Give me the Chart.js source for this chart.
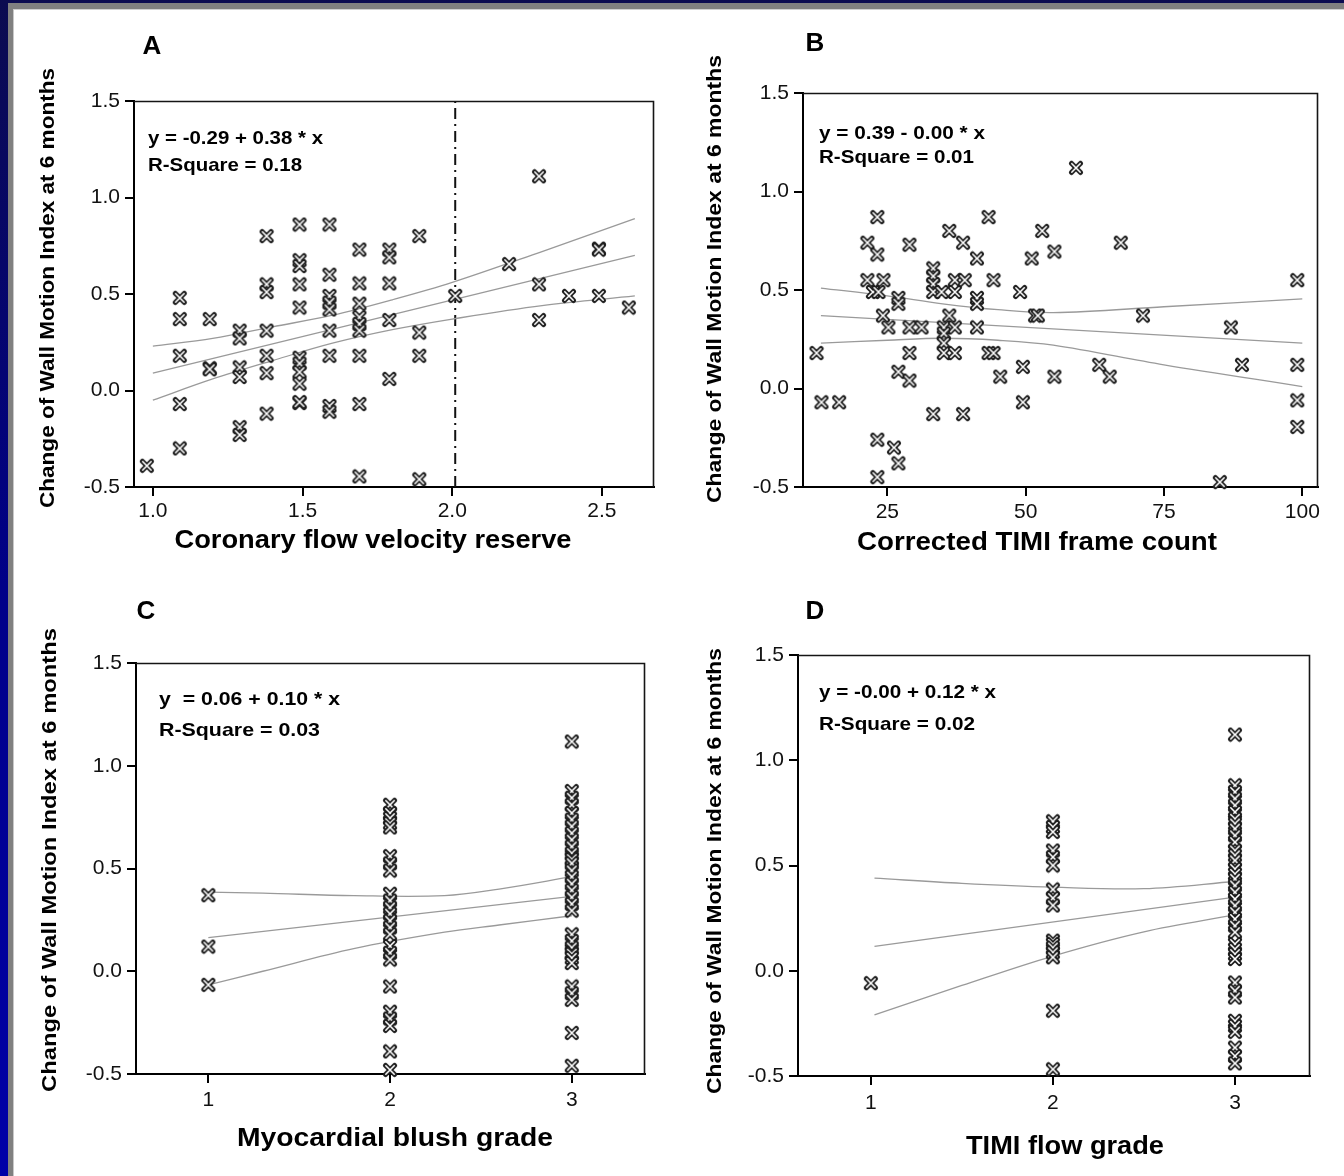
<!DOCTYPE html>
<html><head><meta charset="utf-8">
<script src="https://cdn.jsdelivr.net/npm/chart.js@4.4.1/dist/chart.umd.min.js"></script>
<style>
html,body{margin:0;padding:0;width:1344px;height:1176px;overflow:hidden;background:linear-gradient(to bottom,#0b0b50,#000088 50%,#0000a8);}
#gray{position:absolute;left:8px;top:3px;right:0;bottom:0;background:#808080;}
#white{position:absolute;left:13px;top:9px;right:0;bottom:0;background:#fff;border-top:1px solid #d0d0d0;border-left:1px solid #c8c8c8;}
canvas{position:absolute;}
</style></head><body>
<div id="gray"></div><div id="white"></div>
<canvas id="cA"></canvas><canvas id="cB"></canvas><canvas id="cC"></canvas><canvas id="cD"></canvas>
<script>
// ---------- DATA ----------
const yTitle = 'Change of Wall Motion Index at 6 months';
const yTickValues = [-0.5, 0.0, 0.5, 1.0, 1.5];
const yRange = [-0.5, 1.5];

// Panel A
const aXTitle = 'Coronary flow velocity reserve';
const aEquation = ['y = -0.29 + 0.38 * x', 'R-Square = 0.18'];
const aXTicks = [1.0, 1.5, 2.0, 2.5];
const aX = [0.98,
  1.09,1.09,1.09,1.09,1.09,
  1.19,1.19,1.19,
  1.29,1.29,1.29,1.29,1.29,1.29,
  1.38,1.38,1.38,1.38,1.38,1.38,1.38,
  1.49,1.49,1.49,1.49,1.49,1.49,1.49,1.49,1.49,1.49,1.49,
  1.59,1.59,1.59,1.59,1.59,1.59,1.59,1.59,1.59,
  1.69,1.69,1.69,1.69,1.69,1.69,1.69,1.69,1.69,
  1.79,1.79,1.79,1.79,1.79,
  1.89,1.89,1.89,1.89,
  2.01,2.19,2.29,2.29,2.29,2.39,2.49,2.49,2.49,2.59];
const aY = [-0.39,
  0.48,0.37,0.18,-0.07,-0.30,
  0.37,0.115,0.11,
  0.31,0.27,0.12,0.07,-0.19,-0.23,
  0.80,0.55,0.51,0.31,0.18,0.09,-0.12,
  0.86,0.675,0.645,0.55,0.43,0.17,0.14,0.095,0.035,-0.065,-0.06,
  0.86,0.60,0.49,0.455,0.42,0.31,0.18,-0.08,-0.11,
  0.73,0.555,0.45,0.38,0.345,0.31,0.18,-0.07,-0.445,
  0.73,0.69,0.555,0.365,0.06,
  0.80,0.30,0.18,-0.46,
  0.49,0.655,1.11,0.55,0.365,0.49,0.735,0.73,0.49,0.43];
const aFitX = [1.0, 2.61];
const aFitY = [0.09, 0.70];
const aBandX = [1.0, 1.2, 1.4, 1.6, 1.8, 2.0, 2.3, 2.61];
const aUpper = [0.23, 0.27, 0.33, 0.39, 0.47, 0.56, 0.72, 0.89];
const aLower = [-0.05, 0.06, 0.155, 0.245, 0.315, 0.37, 0.44, 0.49];
const aCutoffX = [2.01];

// Panel B
const bXTitle = 'Corrected TIMI frame count';
const bEquation = ['y = 0.39 - 0.00 * x', 'R-Square = 0.01'];
const bXTicks = [25, 50, 75, 100];
const bX = [12.2,13.1,16.3,23.2,21.4,23.2,21.4,24.3,22.4,23.4,27.0,27.0,24.2,25.2,29.0,29.0,31.2,29.0,27.0,29.0,
  33.3,33.3,33.3,33.3,34.8,36.2,36.2,35.2,37.2,35.2,35.2,35.2,37.2,37.2,37.2,39.0,38.7,38.7,33.3,
  41.2,41.2,41.2,41.2,43.3,43.3,44.2,44.2,45.4,49.0,49.5,49.5,51.1,51.7,52.2,53.0,55.2,55.2,
  23.2,26.2,27.0,23.2,59.1,67.2,71.2,63.3,65.2,87.1,89.1,85.1,99.1,99.1,99.1,99.1];
const bY = [0.18,-0.07,-0.07,0.87,0.74,0.68,0.55,0.55,0.49,0.49,0.46,0.43,0.37,0.31,0.73,0.31,0.31,0.18,0.085,0.04,
  0.61,0.57,0.53,0.49,0.49,0.80,0.37,0.31,0.31,0.28,0.23,0.18,0.18,0.55,0.49,0.55,0.74,-0.13,-0.13,
  0.66,0.46,0.43,0.31,0.87,0.18,0.18,0.55,0.06,0.49,0.11,-0.07,0.66,0.37,0.37,0.80,0.695,0.06,
  -0.26,-0.30,-0.38,-0.45,1.12,0.74,0.37,0.12,0.06,0.31,0.12,-0.475,0.55,0.12,-0.06,-0.195];
const bFitX = [13, 100];
const bFitY = [0.37, 0.23];
const bBandX = [13, 25, 35, 45, 55, 75, 100];
const bUpper = [0.51, 0.47, 0.43, 0.40, 0.385, 0.415, 0.455];
const bLower = [0.23, 0.245, 0.255, 0.245, 0.22, 0.12, 0.01];

// Panel C
const cXTitle = 'Myocardial blush grade';
const cEquation = ['y  = 0.06 + 0.10 * x', 'R-Square = 0.03'];
const cXTicks = [1, 2, 3];
const cGrade1Y = [0.37, 0.12, -0.066];
const cGrade2Y = [0.81,0.77,0.745,0.72,0.70,0.56,0.525,0.49,0.377,0.344,0.31,0.28,0.246,0.213,0.18,0.123,0.09,0.057,
  -0.074,-0.197,-0.23,-0.266,-0.39,-0.48];
const cGrade3Y = [1.118,0.877,0.844,0.81,0.77,0.738,0.705,0.672,0.64,0.607,0.574,0.55,0.545,0.525,0.49,0.46,0.426,
  0.394,0.36,0.328,0.295,0.18,0.148,0.115,0.09,0.085,0.065,0.04,-0.074,-0.107,-0.139,-0.30,-0.46];
const cFitX = [1, 3];
const cFitY = [0.164, 0.364];
const cBandX = [1, 1.3, 1.8, 2.3, 2.6, 3.0];
const cUpper = [0.385, 0.38, 0.368, 0.368, 0.40, 0.46];
const cLower = [-0.066, 0.0, 0.11, 0.19, 0.225, 0.27];

// Panel D
const dXTitle = 'TIMI flow grade';
const dEquation = ['y = -0.00 + 0.12 * x', 'R-Square = 0.02'];
const dXTicks = [1, 2, 3];
const dGrade1Y = [-0.059];
const dGrade2Y = [0.71,0.683,0.66,0.571,0.54,0.50,0.386,0.345,0.31,0.143,0.127,0.11,0.087,0.064,-0.19,-0.468];
const dGrade3Y = [1.122,0.881,0.85,0.818,0.786,0.754,0.722,0.699,0.675,0.643,0.611,0.571,0.548,0.524,0.484,0.46,
  0.437,0.405,0.373,0.341,0.31,0.278,0.246,0.214,0.183,0.127,0.103,0.079,0.056,-0.056,-0.095,-0.127,-0.238,-0.262,
  -0.29,-0.365,-0.405,-0.44];
const dFitX = [1.02, 3];
const dFitY = [0.116, 0.35];
const dBandX = [1.02, 1.5, 2.0, 2.5, 3.0];
const dUpper = [0.44, 0.415, 0.397, 0.39, 0.424];
const dLower = [-0.21, -0.07, 0.07, 0.185, 0.265];

// ---------- BUILD ----------
const FONT = '"Liberation Sans", Arial, Helvetica, sans-serif';
Chart.defaults.font.family = FONT;

function gradeX(g1, g2, g3){ return [...g1.map(()=>1), ...g2.map(()=>2), ...g3.map(()=>3)]; }
const cX = gradeX(cGrade1Y, cGrade2Y, cGrade3Y), cY = [...cGrade1Y, ...cGrade2Y, ...cGrade3Y];
const dX = gradeX(dGrade1Y, dGrade2Y, dGrade3Y), dY = [...dGrade1Y, ...dGrade2Y, ...dGrade3Y];

function makeMarker(){
  const c = document.createElement('canvas'); c.width = 16; c.height = 16;
  const g = c.getContext('2d');
  g.lineCap = 'round';
  g.strokeStyle = '#1e1e1e'; g.lineWidth = 5;
  g.beginPath(); g.moveTo(3.5,3.5); g.lineTo(12.5,12.5); g.moveTo(12.5,3.5); g.lineTo(3.5,12.5); g.stroke();
  g.strokeStyle = '#ffffff'; g.lineWidth = 1.6;
  g.beginPath(); g.moveTo(3.8,3.8); g.lineTo(12.2,12.2); g.moveTo(12.2,3.8); g.lineTo(3.8,12.2); g.stroke();
  return c;
}
const marker = makeMarker();

const panels = [
  {canvas:'cA', origin:[14,10], size:[660,560], area:[134,101,654,487], xRange:[0.937,2.674], xTicks:aXTicks, xDigits:1,
   px:aX, py:aY, fit:[aFitX,aFitY], band:[aBandX,aUpper,aLower], cutoff:aCutoffX,
   letter:'A', letterPos:[152,47], eq:aEquation, eqX:148, eqY:[139,166], eqW:[175,154],
   xTitle:aXTitle, xTitlePos:[373,541], xTitleW:397, yTitlePos:[48,288], yTitleW:440, xTickPad:3},
  {canvas:'cB', origin:[674,10], size:[670,560], area:[803,93,1318,487], xRange:[9.76,102.84], xTicks:bXTicks, xDigits:0,
   px:bX, py:bY, fit:[bFitX,bFitY], band:[bBandX,bUpper,bLower], cutoff:null,
   letter:'B', letterPos:[815,44], eq:bEquation, eqX:819, eqY:[134,158], eqW:[166,155],
   xTitle:bXTitle, xTitlePos:[1037,543], xTitleW:360, yTitlePos:[715,279], yTitleW:448, xTickPad:4},
  {canvas:'cC', origin:[14,580], size:[660,596], area:[136,663,645,1074], xRange:[0.602,3.403], xTicks:cXTicks, xDigits:0,
   px:cX, py:cY, fit:[cFitX,cFitY], band:[cBandX,cUpper,cLower], cutoff:null,
   letter:'C', letterPos:[146,612], eq:cEquation, eqX:159, eqY:[700,731], eqW:[181,161],
   xTitle:cXTitle, xTitlePos:[395,1139], xTitleW:316, yTitlePos:[50,860], yTitleW:464, xTickPad:5},
  {canvas:'cD', origin:[674,580], size:[670,596], area:[798,655,1310,1076], xRange:[0.60,3.412], xTicks:dXTicks, xDigits:0,
   px:dX, py:dY, fit:[dFitX,dFitY], band:[dBandX,dUpper,dLower], cutoff:null,
   letter:'D', letterPos:[815,612], eq:dEquation, eqX:819, eqY:[693,725], eqW:[177,156],
   xTitle:dXTitle, xTitlePos:[1065,1147], xTitleW:198, yTitlePos:[715,871], yTitleW:446, xTickPad:6}
];

function drawText(ctx, t, x, y, weight, size, w, align){
  ctx.save();
  ctx.font = weight + ' ' + size + 'px ' + FONT;
  ctx.textAlign = 'left'; ctx.textBaseline = 'middle'; ctx.fillStyle = '#000';
  const m = ctx.measureText(t).width;
  const s = w ? w / m : 1;
  const x0 = align === 'center' ? x - m * s / 2 : x;
  ctx.translate(x0, y); ctx.scale(s, 1); ctx.fillText(t, 0, 0);
  ctx.restore();
}

function makeDecor(p){
  return {
    id: 'decor' + p.letter,
    afterDraw(chart){
      const ctx = chart.ctx, a = chart.chartArea, ox = p.origin[0], oy = p.origin[1];
      ctx.save();
      ctx.strokeStyle = '#151515'; ctx.lineWidth = 1.6;
      ctx.beginPath(); ctx.moveTo(a.left, a.top + 0.5); ctx.lineTo(a.right - 0.5, a.top + 0.5); ctx.lineTo(a.right - 0.5, a.bottom); ctx.stroke();
      drawText(ctx, p.letter, p.letterPos[0] - ox, p.letterPos[1] - oy, 'bold', 26, null, 'center');
      p.eq.forEach((t, i) => drawText(ctx, t, p.eqX - ox, p.eqY[i] - oy, 'bold', 19, p.eqW[i], 'left'));
      drawText(ctx, p.xTitle, p.xTitlePos[0] - ox, p.xTitlePos[1] - oy, 'bold', 25, p.xTitleW, 'center');
      ctx.translate(p.yTitlePos[0] - ox, p.yTitlePos[1] - oy); ctx.rotate(-Math.PI / 2);
      drawText(ctx, yTitle, 0, 0, 'bold', 21, p.yTitleW, 'center');
      ctx.restore();
    }
  };
}

function pts(xs, ys){ return xs.map((x, i) => ({x: x, y: ys[i]})); }

panels.forEach(p => {
  const cv = document.getElementById(p.canvas);
  cv.width = p.size[0]; cv.height = p.size[1];
  cv.style.left = p.origin[0] + 'px'; cv.style.top = p.origin[1] + 'px';
  cv.style.width = p.size[0] + 'px'; cv.style.height = p.size[1] + 'px';
  const yW = p.area[0] - p.origin[0];
  const xH = p.origin[1] + p.size[1] - p.area[3];
  const lineStyle = {type:'line', showLine:true, pointRadius:0, borderColor:'#9a9a9a', borderWidth:1.3, fill:false, tension:0.35};
  const datasets = [
    {type:'scatter', data: pts(p.px, p.py), pointStyle: marker, pointRadius: 6, clip: false, order: 0},
    Object.assign({data: pts(p.fit[0], p.fit[1]), order: 1}, lineStyle, {tension:0}),
    Object.assign({data: pts(p.band[0], p.band[1]), order: 1}, lineStyle),
    Object.assign({data: pts(p.band[0], p.band[2]), order: 1}, lineStyle)
  ];
  if (p.cutoff) {
    datasets.push({type:'line', showLine:true, pointRadius:0, borderColor:'#111', borderWidth:2,
      borderDash:[11,5,2,5], data: pts([p.cutoff[0], p.cutoff[0]], yRange), order: 2});
  }
  new Chart(cv, {
    type: 'scatter',
    data: {datasets},
    options: {
      responsive: false, animation: false, devicePixelRatio: 1,
      layout: {padding: {left: 0, top: p.area[1] - p.origin[1], right: p.origin[0] + p.size[0] - p.area[2], bottom: 0}},
      plugins: {legend: {display: false}, tooltip: {enabled: false}},
      scales: {
        x: {
          type: 'linear', position: 'bottom', min: p.xRange[0], max: p.xRange[1],
          afterBuildTicks: s => { s.ticks = p.xTicks.map(v => ({value: v})); },
          afterFit: s => { s.height = xH; },
          ticks: {autoSkip: false, maxRotation: 0, color: '#111', font: {size: 21}, padding: p.xTickPad,
            callback: v => Number(v).toFixed(p.xDigits)},
          grid: {drawOnChartArea: false, drawTicks: true, tickLength: 9, color: '#000', lineWidth: 2},
          border: {display: true, color: '#000', width: 2}
        },
        y: {
          type: 'linear', position: 'left', min: yRange[0], max: yRange[1],
          afterBuildTicks: s => { s.ticks = yTickValues.map(v => ({value: v})); },
          afterFit: s => { s.width = yW; },
          ticks: {autoSkip: false, color: '#111', font: {size: 21}, padding: 5,
            callback: v => Number(v).toFixed(1)},
          grid: {drawOnChartArea: false, drawTicks: true, tickLength: 9, color: '#000', lineWidth: 2},
          border: {display: true, color: '#000', width: 2}
        }
      }
    },
    plugins: [makeDecor(p)]
  });
});
</script>
</body></html>
